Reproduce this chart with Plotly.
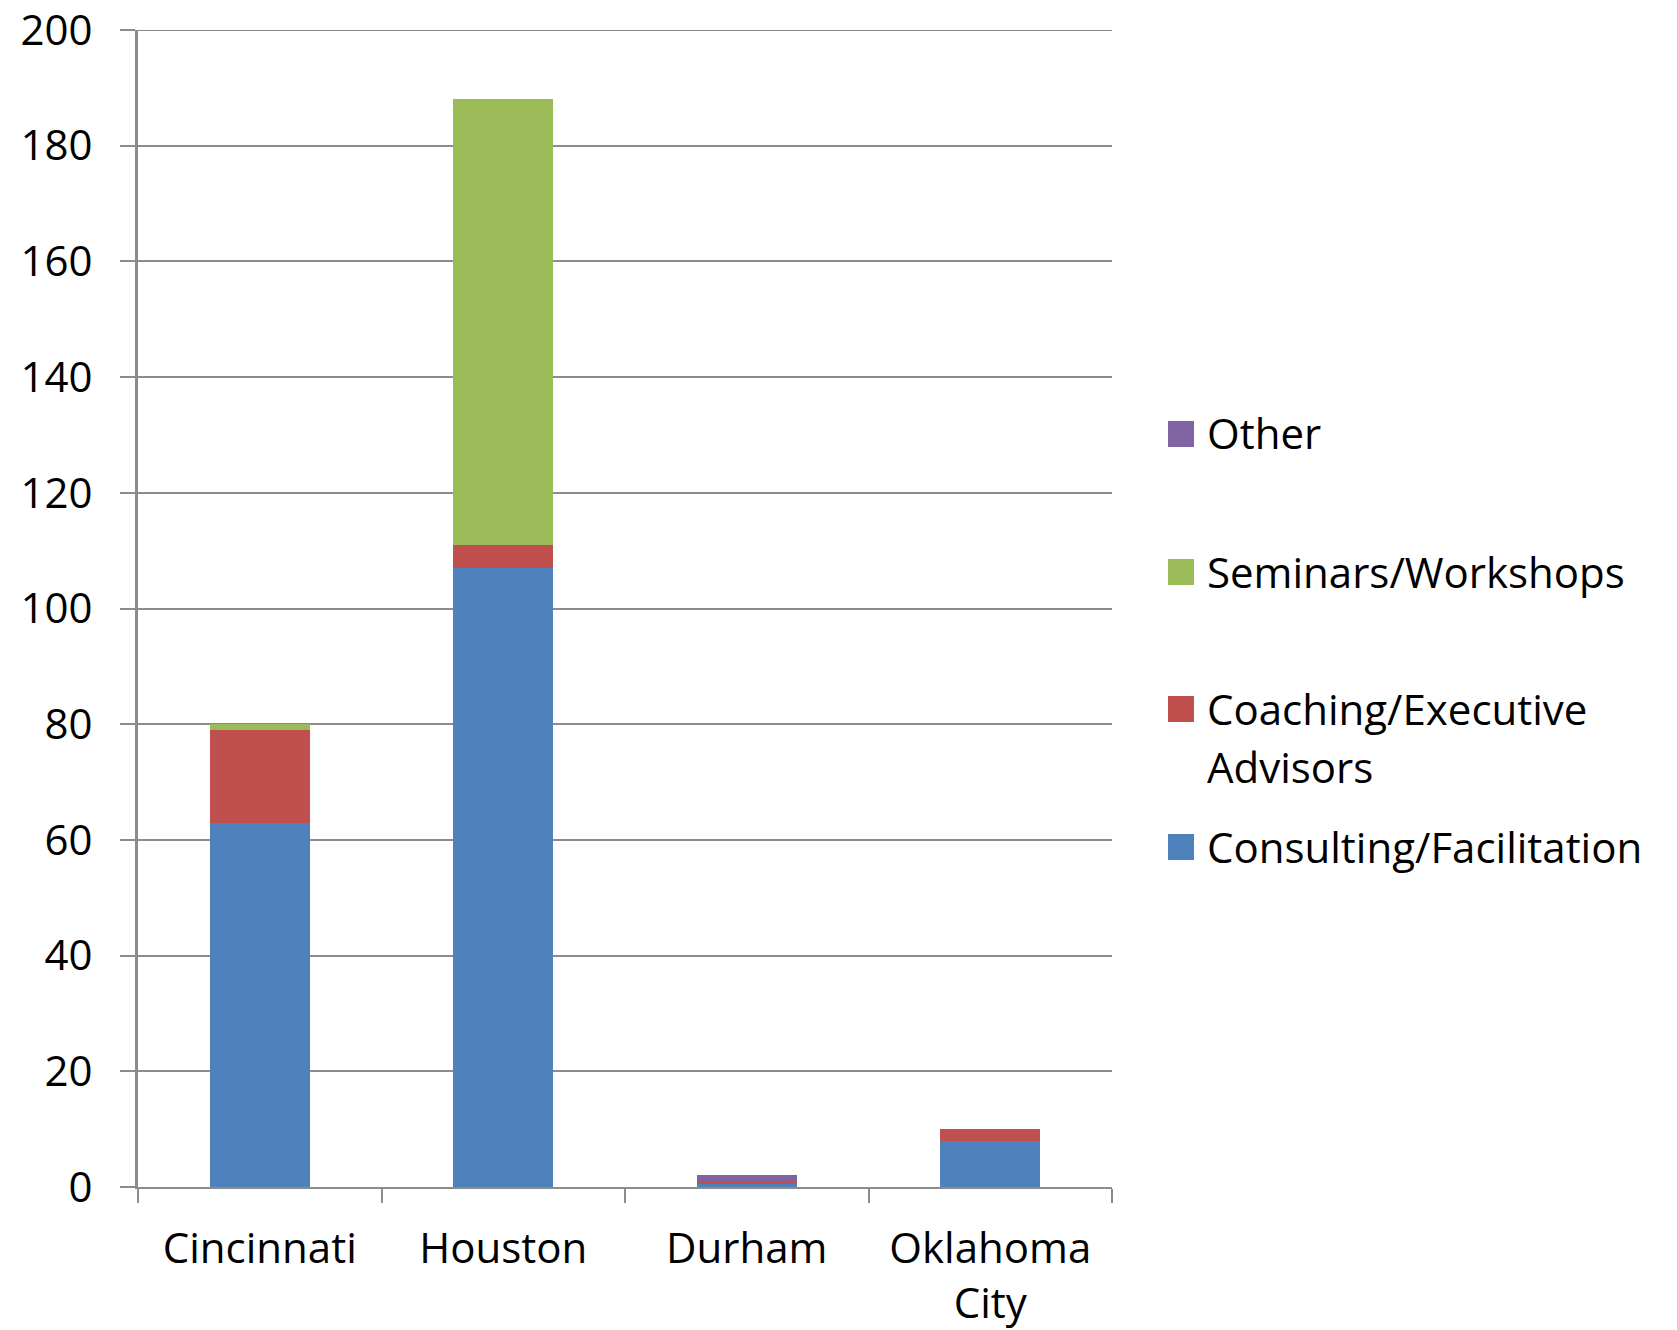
import plotly.graph_objects as go

# Number of engagements per city, by service type
cities = ["Cincinnati", "Houston", "Durham", "Oklahoma<br>City"]
consulting = [63, 107, 0.5, 8]
coaching = [16, 4, 0.5, 2]
seminars = [1, 77, 0, 0]
other = [0, 0, 1, 0]

series = [
    ("Consulting/Facilitation", consulting, "#4F81BD"),
    ("Coaching/Executive Advisors", coaching, "#C0504D"),
    ("Seminars/Workshops", seminars, "#9BBB59"),
    ("Other", other, "#8064A2"),
]

W, H = 1677, 1330
L, R, T, B = 138, 1112, 30, 1187  # plot area in pixels

FONT = "Open Sans"
FS = 42
GRID = "#8C8C8C"

fig = go.Figure()
for name, vals, color in series:
    fig.add_trace(go.Bar(x=cities, y=vals, name=name, marker_color=color,
                         marker_line_width=0, showlegend=False))

# Legend drawn as square swatches with labels, top entry first;
# each entry: (label lines, colour, swatch centre in px)
legend_rows = [(["Other"], "#8064A2", 434),
               (["Seminars/Workshops"], "#9BBB59", 572),
               (["Coaching/Executive", "Advisors"], "#C0504D", 709),
               (["Consulting/Facilitation"], "#4F81BD", 847)]
LINE_GAP = 58


def px_x(p):
    return (p - L) / (R - L)


def px_y(p):
    return (B - p) / (B - T)


shapes = [dict(type="line", xref="paper", yref="y", x0=0, x1=1, y0=200, y1=200,
               line=dict(color=GRID, width=2), layer="below")]
annotations = []
for lines, color, cy in legend_rows:
    shapes.append(dict(type="rect", xref="paper", yref="paper",
                       x0=px_x(1168), x1=px_x(1194), y0=px_y(cy + 13), y1=px_y(cy - 13),
                       fillcolor=color, line_width=0))
    for i, line in enumerate(lines):
        annotations.append(dict(xref="paper", yref="paper", x=px_x(1205),
                                y=px_y(cy - 1 + i * LINE_GAP),
                                xanchor="left", yanchor="middle", align="left",
                                showarrow=False, text=line,
                                font=dict(family=FONT, size=FS, color="#000000")))

fig.update_layout(
    width=W, height=H,
    margin=dict(l=L, r=W - R, t=T, b=H - B, pad=0, autoexpand=False),
    paper_bgcolor="white", plot_bgcolor="white",
    barmode="stack", bargap=0.59,
    font=dict(family=FONT, size=FS, color="#000000"),
    shapes=shapes, annotations=annotations,
    xaxis=dict(showgrid=False, showline=True, linecolor=GRID, linewidth=2,
               ticks="outside", tickson="boundaries", ticklen=14, tickwidth=2,
               tickcolor=GRID, ticklabelstandoff=24, automargin=False),
    yaxis=dict(range=[0, 200], dtick=20, showgrid=True, gridcolor=GRID, gridwidth=2,
               showline=True, linecolor=GRID, linewidth=3, zeroline=False,
               ticks="outside", ticklen=15, tickwidth=2, tickcolor=GRID,
               ticklabelstandoff=19, ticklabeloverflow="allow", automargin=False),
)

fig.write_html("out.html")
